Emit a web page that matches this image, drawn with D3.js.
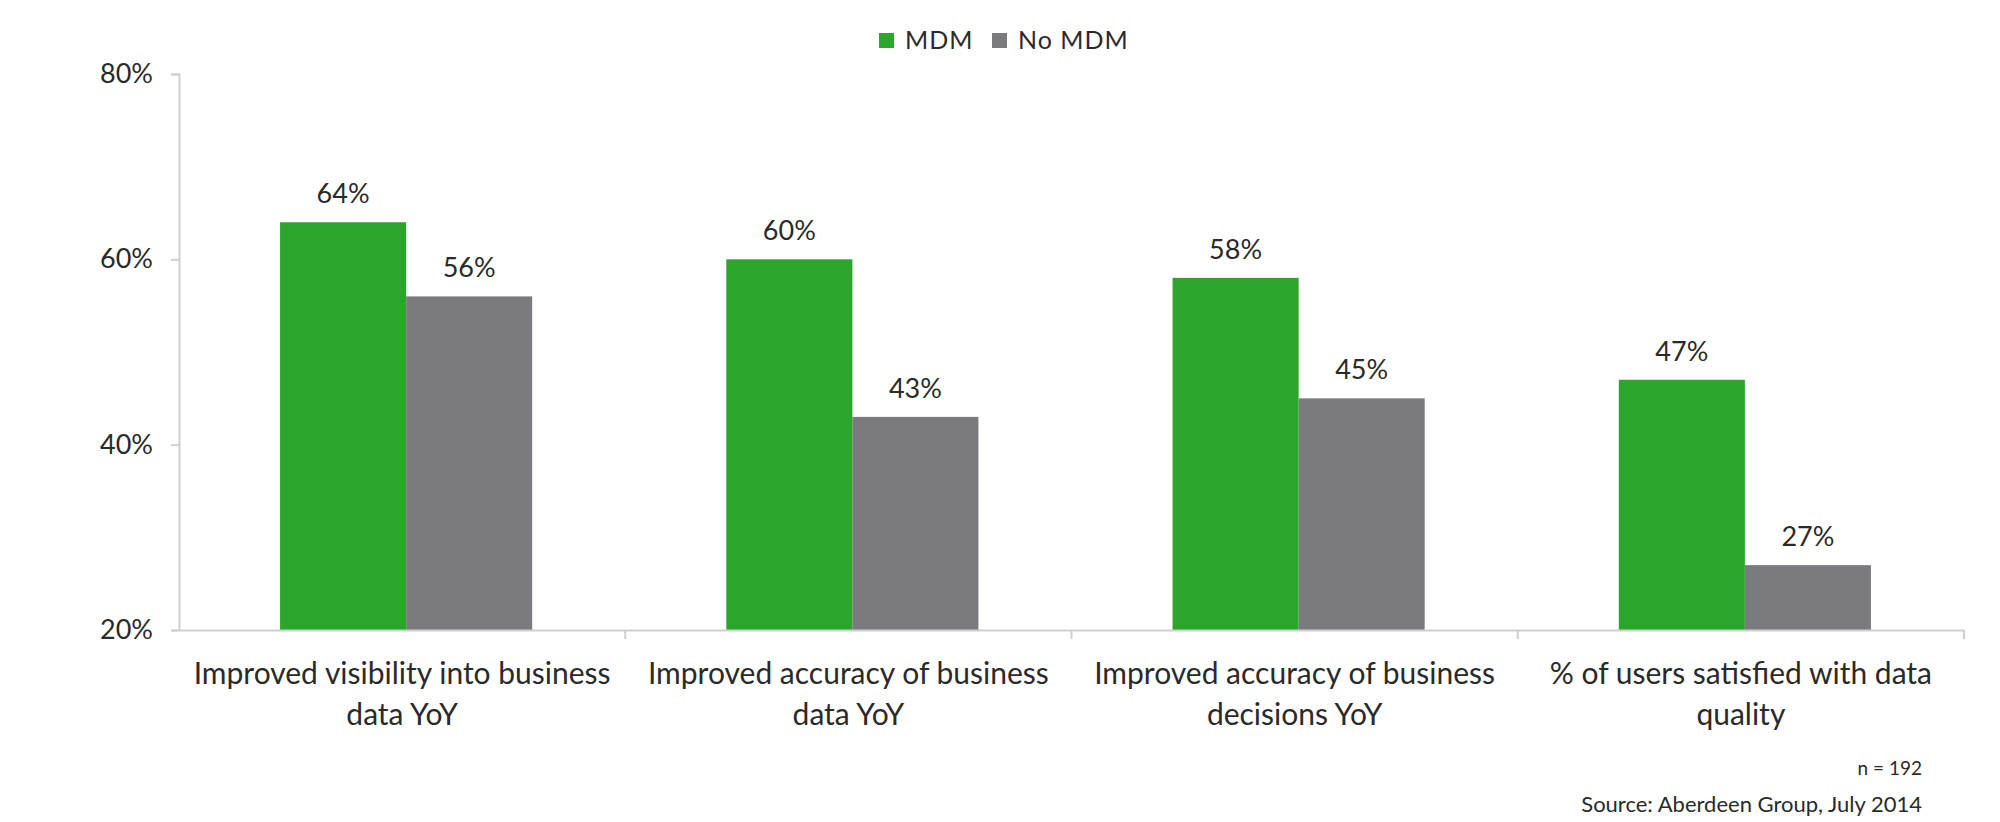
<!DOCTYPE html>
<html><head><meta charset="utf-8">
<script src="https://cdn.jsdelivr.net/npm/d3@7"></script>
<style>
html,body{margin:0;padding:0;background:#fff;}
svg{display:block;font-family:Lato, "Open Sans", sans-serif;}
</style></head>
<body><svg id="c" width="2000" height="822"></svg>
<script>
const categories = [
  "Improved visibility into business data YoY",
  "Improved accuracy of business data YoY",
  "Improved accuracy of business decisions YoY",
  "% of users satisfied with data quality"
];
const seriesNames = ["MDM", "No MDM"];
const mdmValues = [64, 60, 58, 47];
const noMdmValues = [56, 43, 45, 27];
const yTicks = [20, 40, 60, 80];
const colors = ["#2ba52b", "#7b7b7f"];

const svg = d3.select("#c");
const margin = {left:179, right:36, top:74, bottom:192};
const W = 2000, H = 822;
const x0 = d3.scaleBand().domain(categories).range([margin.left, W - margin.right]).paddingInner(0).paddingOuter(0);
const x1 = d3.scaleBand().domain(seriesNames).range([0, x0.bandwidth()]).paddingInner(0).paddingOuter(0.77);
const y = d3.scaleLinear().domain([20, 80]).range([H - margin.bottom, margin.top]);
const color = d3.scaleOrdinal().domain(seriesNames).range(colors);

const data = categories.map((c,i)=>({cat:c, vals:[{s:"MDM", v:mdmValues[i]},{s:"No MDM", v:noMdmValues[i]}]}));

// y axis
const yAxis = svg.append("g").attr("transform",`translate(${margin.left},0)`)
  .call(d3.axisLeft(y).tickValues(yTicks).tickFormat(d=>d+"%").tickSize(8).tickPadding(18));
yAxis.select(".domain").attr("stroke","#cfcfcf").attr("stroke-width",2);
yAxis.selectAll(".tick line").attr("stroke","#cfcfcf").attr("stroke-width",2);
yAxis.selectAll(".tick text").attr("fill","#2a2a2a").style("font-size","27px").style("font-family","Lato");

// bars
const g = svg.append("g");
const groups = g.selectAll("g.grp").data(data).join("g").attr("class","grp")
  .attr("transform", d=>`translate(${x0(d.cat)+4},0)`);
groups.selectAll("rect").data(d=>d.vals).join("rect")
  .attr("x", d=>x1(d.s)).attr("width", x1.bandwidth())
  .attr("y", d=>y(d.v)).attr("height", d=>y(20)-y(d.v))
  .attr("fill", d=>color(d.s));
groups.selectAll("text.val").data(d=>d.vals).join("text").attr("class","val")
  .attr("x", d=>x1(d.s)+x1.bandwidth()/2).attr("y", d=>y(d.v)-19)
  .attr("text-anchor","middle").attr("fill","#2a2a2a").style("font-size","27px")
  .text(d=>d.v+"%");

// x axis
const xAxis = svg.append("g").attr("transform",`translate(0,${y(20)})`)
  .call(d3.axisBottom(x0).tickSize(0).tickFormat(""));
xAxis.select(".domain").attr("stroke","#cfcfcf").attr("stroke-width",2);
const bounds = categories.map(c=>x0(c)+x0.bandwidth());
svg.append("g").selectAll("line").data(bounds).join("line")
  .attr("x1",d=>d).attr("x2",d=>d).attr("y1",y(20)).attr("y2",y(20)+9)
  .attr("stroke","#cfcfcf").attr("stroke-width",2);

// category labels
const maxW = 440;
svg.append("g").selectAll("text.cat").data(categories).join("text").attr("class","cat")
  .attr("x", d=>x0(d)+x0.bandwidth()/2).attr("y", y(20)+54)
  .attr("text-anchor","middle").attr("fill","#2a2a2a").style("font-size","30px")
  .each(function(d){
    const t = d3.select(this);
    const words = d.split(" ");
    let line = [];
    let ts = t.append("tspan").attr("x", x0(d)+x0.bandwidth()/2).attr("dy",0);
    for (const w of words){
      line.push(w); ts.text(line.join(" "));
      if (ts.node().getComputedTextLength() > maxW && line.length>1){
        line.pop(); ts.text(line.join(" "));
        line=[w];
        ts = t.append("tspan").attr("x", x0(d)+x0.bandwidth()/2).attr("dy",41).text(w);
      }
    }
  });

// legend
const legend = svg.append("g").attr("transform","translate(879,33)");
const li = legend.selectAll("g").data(seriesNames).join("g")
  .attr("transform",(d,i)=>`translate(${i*113},0)`);
li.append("rect").attr("width",15).attr("height",15).attr("fill",d=>color(d));
li.append("text").attr("x",26).attr("y",16).attr("fill","#2a2a2a").style("font-size","25px")
  .style("letter-spacing","1px").text(d=>d);

// footnotes
svg.append("text").attr("x",1922).attr("y",775).attr("text-anchor","end").attr("fill","#2a2a2a").style("font-size","19px").text("n = 192");
svg.append("text").attr("x",1922).attr("y",812).attr("text-anchor","end").attr("fill","#2a2a2a").style("font-size","22px").text("Source: Aberdeen Group, July 2014");
</script></body></html>
